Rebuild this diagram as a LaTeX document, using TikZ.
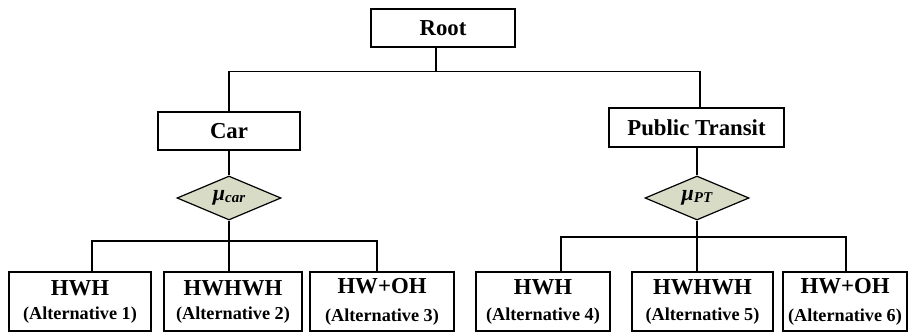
\documentclass[tikz,border=0pt]{standalone}
\usepackage{fontspec}
\setmainfont{Liberation Serif}
\usetikzlibrary{shapes.geometric, positioning, calc}
\definecolor{colNest}{RGB}{216, 220, 199}

\begin{document}
\begin{tikzpicture}[x=0.5pt, y=-0.5pt,
    box/.style={draw, line width=0.9pt, inner sep=0pt, font=\bfseries\fontsize{11.4}{13}\selectfont},
    nest/.style={diamond, draw, line width=0.6pt, fill=colNest, aspect=2.36, inner sep=0pt,
        minimum width=52pt, minimum height=22pt, font=\bfseries\itshape\fontsize{11}{11}\selectfont},
    alt/.style={box, align=center, minimum height=29.5pt},
    link/.style={line width=0.6pt}]
    \useasboundingbox (0,0) rectangle (908,332);

    % --- Root ---
    \node[box, minimum width=72pt, minimum height=19pt] (root) at (443, 28) {Root};

    % --- Modes ---
    \node[box, minimum width=71pt, minimum height=19pt] (car) at (229, 131) {Car};
    \node[box, minimum width=87.5pt, minimum height=19.5pt] (pt) at (696.5, 127.5) {Public Transit};

    % --- Nests ---
    \node[nest] (mucar) at (229, 198) {μ{\fontsize{7.5}{7.5}\selectfont\raisebox{-1pt}{car}}};
    \node[nest] (mupt) at (697, 198) {μ{\fontsize{7.5}{7.5}\selectfont\raisebox{-1pt}{PT}}};

    % --- Alternatives ---
    \foreach \n/\x/\w/\t/\k/\g in {a1/80/71/HWH/1/-1pt, a2/233/69/HWHWH/2/-1pt, a3/382/72/HW+OH/3/1pt,
        a4/543/67/HWH/4/0pt, a5/702.5/70.5/HWHWH/5/0pt, a6/845/62/HW+OH/6/1pt} {
        \node[alt, minimum width=\w pt] (\n) at (\x, 301.5)
            {\t\\[\g]{\fontsize{9.1}{9}\selectfont (Alternative \k)}};
    }

    % --- Links ---
    \coordinate (rootbus) at (436, 71.5);
    \coordinate (ptdrop) at (700, 71.5);
    \draw[link] (root.south -| rootbus) -- (rootbus);
    \draw[link] (car.north) |- (rootbus) -| (pt.north -| ptdrop);
    \draw[link] (car.south) -- (mucar.north);
    \draw[link] (mupt.north |- pt.south) -- (mupt.north);

    \coordinate (cl) at (92, 241);
    \coordinate (cr) at (377, 241);
    \draw[link] (a1.north -| cl) |- (cr) -- (a3.north -| cr);
    \draw[link] (mucar.south) -- (mucar.south |- a2.north);

    \coordinate (pl) at (561, 237);
    \coordinate (pr) at (846, 237);
    \draw[link] (a4.north -| pl) |- (pr) -- (a6.north -| pr);
    \draw[link] (mupt.south) -- (mupt.south |- a5.north);

\end{tikzpicture}
\end{document}
